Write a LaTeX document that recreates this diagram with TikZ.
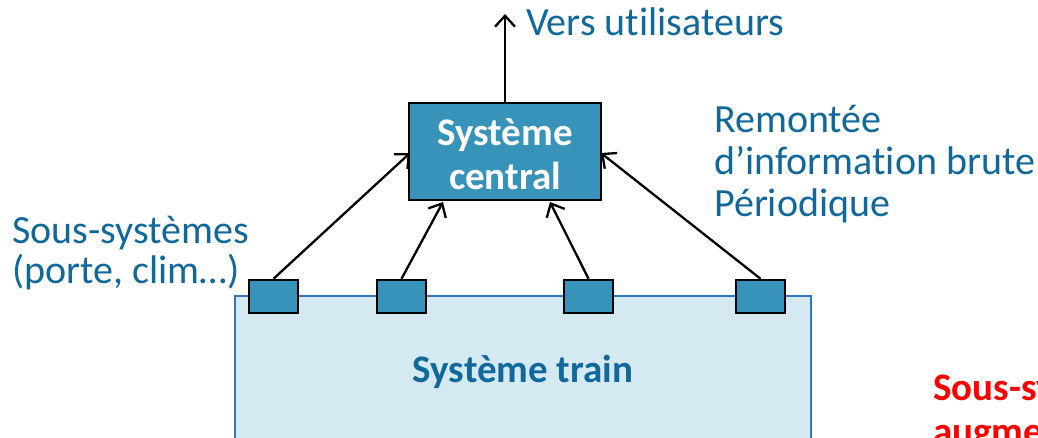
\documentclass[tikz,border=0pt]{standalone}
\usepackage{fontspec}
\setmainfont{Carlito}[Ligatures=NoCommon]
\usetikzlibrary{arrows.meta}
\definecolor{txtblue}{HTML}{11689A}
\definecolor{boxblue}{HTML}{3793BA}
\definecolor{pale}{HTML}{D4E9F2}
\definecolor{edgeblue}{HTML}{2E78C0}
\definecolor{alert}{HTML}{FF0000}
\tikzset{
  unit/.style={draw=black, line width=2.5pt, fill=boxblue, minimum width=49pt, minimum height=33pt, inner sep=0pt},
  link/.style={line width=2.3pt, -{Straight Barb[length=11pt, width=20pt, line width=2.3pt]}},
  note/.style={text=txtblue, font=\fontsize{40}{42}\selectfont, align=left, inner sep=0pt},
  alertnote/.style={anchor=base west, inner sep=0pt, text=alert, font=\fontsize{39}{42}\selectfont\bfseries},
}
\begin{document}
\begin{tikzpicture}[x=1pt, y=-1pt]
\useasboundingbox (0,0) rectangle (1038,437);
\clip (0,0) rectangle (1038,437);
% train body, running off the lower edge
\fill[pale] (235,296) rectangle (811,460);
\draw[edgeblue, line width=1.5pt] (235,460) -- (235,296) -- (811,296) -- (811,460);
\node[text=txtblue, font=\fontsize{39}{44}\selectfont\bfseries, anchor=base] (train) at (523,382) {Système train};
% sub-system units on the train roof
\node[unit] (u1) at (273.5,296.5) {};
\node[unit] (u2) at (401.5,296.5) {};
\node[unit] (u3) at (588.5,296.5) {};
\node[unit] (u4) at (760.5,296.5) {};
% central system
\node[draw=black, line width=2.5pt, fill=boxblue, minimum width=192pt, minimum height=97pt, inner sep=0pt] (central) at (505,151.5) {};
\node[text=white, font=\fontsize{39}{44}\selectfont\bfseries, anchor=base] (t1) at (505,145) {Système};
\node[text=white, font=\fontsize{39}{44}\selectfont\bfseries, anchor=base] (t2) at (505,189) {central};
\coordinate (c1) at (410,153);
\coordinate (c2) at (443,202);
\coordinate (c3) at (550,202);
\coordinate (c4) at (601,153);
\draw[link] (u1.north) -- (c1);
\draw[link] (u2.north) -- (c2);
\draw[link] (u3.north) -- (c3);
\draw[link] (u4.north) -- (c4);
% upward link to users
\coordinate (up) at (505,14);
\draw[link] (central.north) -- (up);
\node[note, anchor=base west] (users) at (526,35) {Vers utilisateurs};
% annotations
\node[note, anchor=base west] (raw1) at (714,132) {Remontée};
\node[note, anchor=base west] (raw2) at (714,174) {d’information brute};
\node[note, anchor=base west] (raw3) at (714,216) {Périodique};
\node[note, anchor=base west] (subs1) at (12,243) {Sous-systèmes};
\node[note, anchor=base west] (subs2) at (12,283) {(porte, clim…)};
\node[alertnote] (more1) at (933,400) {Sous-systèmes};
\node[alertnote] (more2) at (933,444) {augmentés};
\end{tikzpicture}
\end{document}
